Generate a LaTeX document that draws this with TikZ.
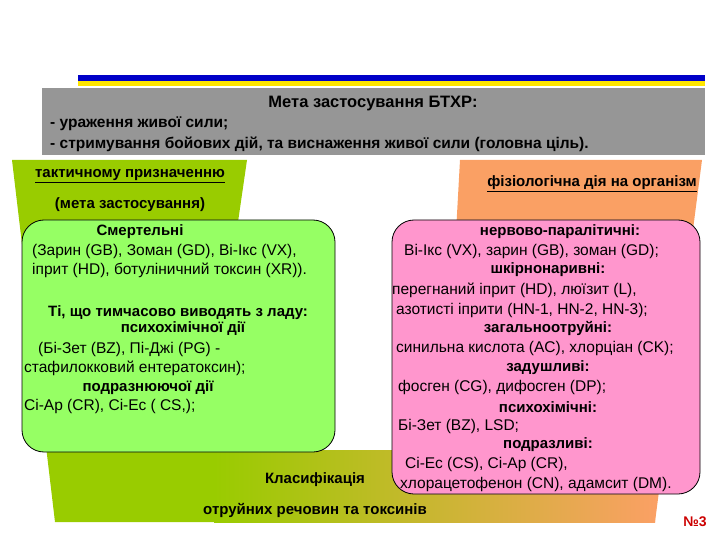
\documentclass[tikz,border=0pt]{standalone}
\usepackage{fontspec}
\setmainfont{Liberation Sans}
\definecolor{lg}{RGB}{153,204,0}
\definecolor{og}{RGB}{250,160,100}
\definecolor{pk}{RGB}{255,150,205}
\definecolor{bg}{RGB}{150,255,100}
\definecolor{gr}{RGB}{150,150,150}
\definecolor{bl}{RGB}{0,0,200}
\definecolor{yl}{RGB}{255,230,0}
\begin{document}
\begin{tikzpicture}[x=1pt,y=-1pt,
  box/.style={draw=black,rounded corners=22pt,line width=0.8pt},
  t/.style={font=\fontsize{15.5}{18}\selectfont,inner sep=0pt},
  hb/.style={t,font=\fontsize{15}{18}\selectfont\bfseries}]
\useasboundingbox (0,0) rectangle (720,540);
% header lines
\fill[bl] (78,75) rectangle (705,81);
\fill[yl] (78,81) rectangle (705,86);
% gray box
\fill[gr] (42,88) rectangle (705,155);
\node[hb,font=\fontsize{16.5}{18}\selectfont\bfseries] (title) at (373,104) {Мета застосування БТХР:};
\node[hb,anchor=west,font=\fontsize{15.5}{18}\selectfont\bfseries] (g1) at (50,124) {- ураження живої сили;};
\node[hb,anchor=west,font=\fontsize{15.5}{18}\selectfont\bfseries] (g2) at (50,144) {- стримування бойових дій, та виснаження живої сили (головна ціль).};
% legs and bar
\fill[lg] (12,160) -- (247,160) -- (238,222) -- (212,222) -- (215,452) -- (215,522) -- (55,522) -- cycle;
\fill[og] (460,160) -- (702,160) -- (655,522) -- (440,522) -- cycle;
\shade[left color=lg,right color=og] (214,450) rectangle (655,522);
% boxes
\draw[box,fill=bg] (22,220) rectangle (335,452);
\draw[box,fill=pk] (392,220) rectangle (700,494);
\node[hb] (lt) at (130,176) {\underline{тактичному призначенню}};
\node[hb] (lt2) at (130,205) {(мета застосування)};
\node[hb] (rt) at (592,184) {\underline{фізіологічна дія на організм}};
\node[hb] (c1) at (315,480) {Класифікація};
\node[hb] (c2) at (315,510) {отруйних речовин та токсинів};
\node[t,text=red!80!black,font=\fontsize{14}{16}\selectfont\bfseries] (no) at (695,522) {№3};
% left box text
\node[hb] (l1) at (140,232) {Смертельні};
\node[t,anchor=west] (l2) at (32,251) {(Зарин (GB), Зоман (GD), Ві-Ікс (VX),};
\node[t,anchor=west] (l3) at (32,270) {іприт (HD), ботуліничний токсин (XR)).};
\node[hb] (l4) at (178,313) {Ті, що тимчасово виводять з ладу:};
\node[hb] (l5) at (183,329) {психохімічної дії};
\node[t,anchor=west] (l6) at (38,349) {(Бі-Зет (BZ), Пі-Джі (PG) -};
\node[t,anchor=west] (l7) at (24,368) {стафилокковий ентератоксин);};
\node[hb] (l8) at (148,388) {подразнюючої дії};
\node[t,anchor=west] (l9) at (24,406) {Сі-Ар (CR), Сі-Ес ( CS,);};
% right box text
\node[hb] (r1) at (560,232) {нервово-паралітичні:};
\node[t,anchor=west] (r2) at (404,251) {Ві-Ікс (VX), зарин (GB), зоман (GD);};
\node[hb] (r3) at (548,270) {шкірнонаривні:};
\node[t,anchor=west] (r4) at (392,290) {перегнаний іприт (HD), люїзит (L),};
\node[t,anchor=west] (r5) at (396,310) {азотисті іприти (HN-1, HN-2, HN-3);};
\node[hb] (r6) at (548,328) {загальноотруйні:};
\node[t,anchor=west] (r7) at (396,348) {синильна кислота (AC), хлорціан (CK);};
\node[hb] (r8) at (548,368) {задушливі:};
\node[t,anchor=west] (r9) at (398,387) {фосген (CG), дифосген (DP);};
\node[hb] (r10) at (548,407) {психохімічні:};
\node[t,anchor=west] (r11) at (398,426) {Бі-Зет (BZ), LSD;};
\node[hb] (r12) at (548,445) {подразливі:};
\node[t,anchor=west] (r13) at (405,464) {Сі-Ес (CS), Сі-Ар (CR),};
\node[t,anchor=west] (r14) at (400,484) {хлорацетофенон (CN), адамсит (DM).};
\end{tikzpicture}
\end{document}
